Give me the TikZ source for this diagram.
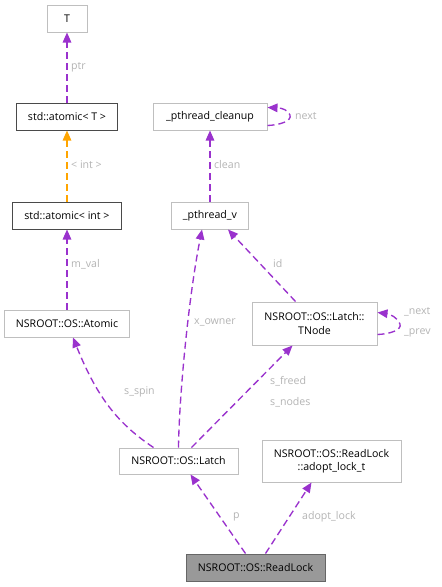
\documentclass[tikz,border=0pt]{standalone}
\usepackage{fontspec}
\setmainfont{Open Sans}
\usetikzlibrary{arrows.meta}
\definecolor{edgepurple}{HTML}{9A32CD}
\definecolor{edgeorange}{HTML}{FFA500}
\definecolor{lightborder}{HTML}{BFBFBF}
\definecolor{darkborder}{HTML}{4A4A4A}
\definecolor{labelgray}{HTML}{B4B4B4}
\definecolor{mainfill}{HTML}{999999}
\definecolor{mainborder}{HTML}{666666}
\begin{document}
\begin{tikzpicture}[x=1pt,y=-1pt,
  every node/.style={font=\fontsize{10.6}{13.5}\selectfont, inner sep=0pt},
  cls/.style={draw=lightborder, line width=1pt, fill=white, rectangle, align=center},
  doc/.style={draw=darkborder, line width=1pt, fill=white, rectangle, align=center},
  mainnode/.style={draw=mainborder, line width=1pt, fill=mainfill, rectangle, align=center},
  rel/.style={draw=edgepurple, line width=1.35pt, dash pattern=on 7pt off 4pt, -{Triangle[length=10pt,width=8.5pt]}},
  tmpl/.style={draw=edgeorange, line width=1.35pt, dash pattern=on 7pt off 4pt, -{Triangle[length=10pt,width=8.5pt]}},
  lbl/.style={text=labelgray, anchor=west}]
\useasboundingbox (0,0) rectangle (442,587);
\fill[white] (0,0) rectangle (442,587);

\node[cls, minimum width=40pt, minimum height=27pt] (T) at (67,18.5) {T};
\node[doc, minimum width=101pt, minimum height=27pt] (atT) at (67,116.5) {std::atomic< T >};
\node[doc, minimum width=109pt, minimum height=27pt] (atInt) at (67,215.5) {std::atomic< int >};
\node[cls, minimum width=125pt, minimum height=27pt] (atomic) at (67,323.5) {NSROOT::OS::Atomic};
\node[cls, minimum width=114pt, minimum height=27pt] (clean) at (210,116.5) {\_pthread\_cleanup};
\node[cls, minimum width=77pt, minimum height=27pt] (pv) at (210,215.5) {\_pthread\_v};
\node[cls, minimum width=125pt, minimum height=43pt] (tnode) at (314.5,323.5) {NSROOT::OS::Latch::\\TNode};
\node[cls, minimum width=119pt, minimum height=26pt] (latch) at (178.5,461) {NSROOT::OS::Latch};
\node[cls, minimum width=139pt, minimum height=42pt] (adopt) at (331.5,461) {NSROOT::OS::ReadLock\\::adopt\_lock\_t};
\node[mainnode, minimum width=139pt, minimum height=27pt] (rl) at (255.5,567.5) {NSROOT::OS::ReadLock};

% edges
\draw[rel] (atT.north) -- (T.south);
\draw[tmpl] (atInt.north) -- (atT.south);
\draw[rel] (atomic.north) -- (atInt.south);
\draw[rel] (pv.north) -- (clean.south);
\draw[rel] ([yshift=5pt]clean.south east) .. controls (280,125) and (292,121) .. (290,115) .. controls (288,110) and (282,108) .. ([yshift=-5pt]clean.north east);
\draw[rel] ([xshift=-19pt]tnode.north) -- ([xshift=18pt]pv.south);
\draw[rel] ([yshift=11pt]tnode.south east) .. controls (390,334) and (402,330) .. (400,324) .. controls (398,318) and (390,314) .. ([yshift=-11pt]tnode.north east);
\draw[rel] (latch.north) .. controls (179,400) and (188,300) .. ([xshift=-8pt]pv.south);
\draw[rel] ([xshift=-25pt]latch.north) .. controls (120,425) and (98,400) .. ([xshift=6pt]atomic.south);
\draw[rel] ([xshift=13pt]latch.north) -- ([xshift=-22pt]tnode.south);
\draw[rel] ([xshift=-10pt]rl.north) -- ([xshift=12pt]latch.south);
\draw[rel] ([xshift=10pt]rl.north) -- ([xshift=-20pt]adopt.south);

% labels
\node[lbl] (lptr) at (71,67) {ptr};
\node[lbl] (lint) at (71,165) {< int >};
\node[lbl] (lmval) at (71,264) {m\_val};
\node[lbl] (lclean) at (214,165) {clean};
\node[lbl] (lnext) at (295,116) {next};
\node[lbl] (lid) at (273,264) {id};
\node[lbl] (ltnext) at (404,312) {\_next};
\node[lbl] (ltprev) at (404,333) {\_prev};
\node[lbl] (lxo) at (194,322) {x\_owner};
\node[lbl] (lspin) at (124,392) {s\_spin};
\node[lbl] (lfreed) at (270,381) {s\_freed};
\node[lbl] (lnodes) at (270,402) {s\_nodes};
\node[lbl] (lp) at (233,517) {p};
\node[lbl] (ladopt) at (302,517) {adopt\_lock};
\end{tikzpicture}
\end{document}
